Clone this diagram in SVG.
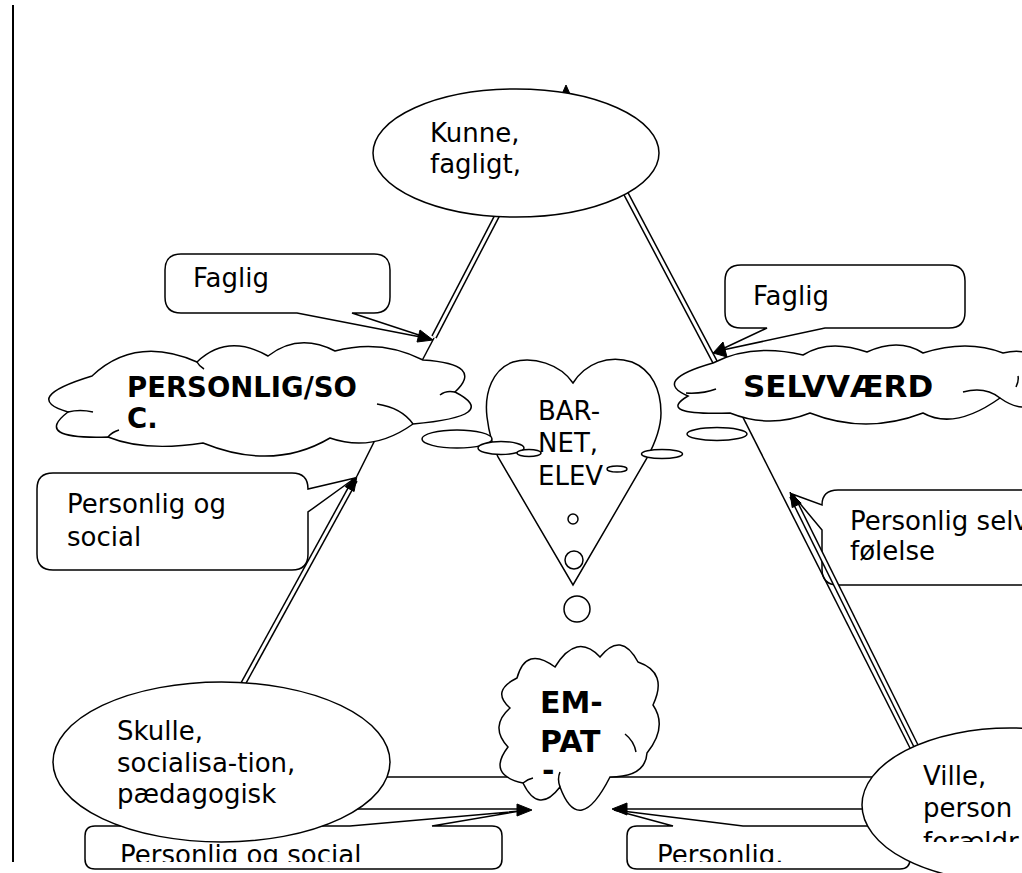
<svg xmlns="http://www.w3.org/2000/svg" width="1022" height="873" viewBox="0 0 1022 873">
<style>
.s{fill:#fff;stroke:#000;stroke-width:1.5}
.l{fill:none;stroke:#000;stroke-width:1.5}
.dk{fill:none;stroke:#000;stroke-width:6}
.dw{fill:none;stroke:#fff;stroke-width:3}
.ah{fill:#000;stroke:#000;stroke-width:1}
.t{font-family:"DejaVu Sans",Verdana,sans-serif;font-size:26px;fill:#000}
.b{font-family:"DejaVu Sans",Verdana,sans-serif;font-weight:bold;fill:#000}
.b27{font-size:27.5px}
.b30{font-size:30px}
.b31{font-size:31px}
</style>
<defs>
<clipPath id="cpB1"><rect x="85" y="826" width="420" height="36"/></clipPath>
<clipPath id="cpB2"><rect x="627" y="826" width="285" height="36"/></clipPath>
<clipPath id="cpV"><rect x="870" y="700" width="160" height="142"/></clipPath>
<clipPath id="cpE"><rect x="500" y="640" width="160" height="134"/></clipPath>
</defs>
<rect width="1022" height="873" fill="#fff"/>
<line x1="13" y1="5" x2="13" y2="862" stroke="#000" stroke-width="2"/>

<g id="callout-faglig-left">
<path class="s" d="M181,254 H374 Q390,254 390,270 V297 Q390,313 374,313 H352 L431,339 L297,313 H181 Q165,313 165,297 V270 Q165,254 181,254 Z"/>
<text class="t" x="193" y="287">Faglig</text>
</g>
<g id="callout-faglig-right">
<path class="s" d="M741,265 H949 Q965,265 965,281 V312 Q965,328 949,328 H825 L718,351 L767,328 H741 Q725,328 725,312 V281 Q725,265 741,265 Z"/>
<text class="t" x="753" y="305">Faglig</text>
</g>
<g id="callout-personlig-social">
<path class="s" d="M53,473 H292 Q308,473 308,489 L355,478 L308,512 V554 Q308,570 292,570 H53 Q37,570 37,554 V489 Q37,473 53,473 Z"/>
<text class="t" x="67" y="513">Personlig og</text>
<text class="t" x="67" y="546">social</text>
</g>
<g id="callout-personlig-selv">
<path class="s" d="M1040,490 V585 H838 Q822,585 822,569 V530 L792,494 L822,505 Q822,490 838,490 Z"/>
<text class="t" x="850" y="530">Personlig selv</text>
<text class="t" x="850" y="560">følelse</text>
</g>
<g id="callout-bottom-left">
<path class="s" d="M95,826 H350 L520,811 L432,826 H492 Q502,826 502,836 V859 Q502,869 492,869 H95 Q85,869 85,859 V836 Q85,826 95,826 Z"/>
<text class="t" x="120" y="864" clip-path="url(#cpB1)">Personlig og social</text>
</g>
<g id="callout-bottom-right">
<path class="s" d="M637,826 H673 L614,810 L743,826 H900 Q910,826 910,836 V859 Q910,869 900,869 H637 Q627,869 627,859 V836 Q627,826 637,826 Z"/>
<text class="t" x="657" y="864" clip-path="url(#cpB2)">Personlig.</text>
</g>

<g id="connectors">
<polygon class="ah" points="562,94 566,85 570,94"/>
<path class="dk" d="M499,212 L434,337"/>
<path class="dw" d="M499,212 L434,337"/>
<path class="l" d="M434,338 L415,374"/>
<path class="dk" d="M624,190 L715,362"/>
<path class="dw" d="M624,190 L715,362"/>
<path class="l" d="M715,362 L911,750"/>
<path class="dk" d="M792,496 L917,748"/>
<path class="dw" d="M792,496 L917,748"/>
<path class="dk" d="M355,480 L243,684"/>
<path class="dw" d="M355,480 L243,684"/>
<path class="l" d="M357,476 L376,438"/>
<path class="l" d="M380,777 H880"/>
<path class="l" d="M355,809 H518"/>
<path class="l" d="M626,809 H866"/>
<polygon class="ah" points="433,340 417,342 420,330"/>
<polygon class="ah" points="713,353 723,342 727,357"/>
<polygon class="ah" points="357,476 345.3,486.7 354.1,491.5"/>
<polygon class="ah" points="790,492 792.2,507.6 801.2,503.2"/>
<polygon class="ah" points="532,810 517,804 517,816"/>
<polygon class="ah" points="612,809 627,803 627,815"/>
</g>

<g id="node-kunne">
<ellipse class="s" cx="516" cy="153" rx="143" ry="64"/>
<text class="t" x="430" y="142">Kunne,</text>
<text class="t" x="430" y="173">fagligt,</text>
</g>

<g id="node-skulle">
<ellipse class="s" cx="221.5" cy="762" rx="168.5" ry="80"/>
<text class="t" x="117" y="740">Skulle,</text>
<text class="t" x="117" y="772">socialisa-tion,</text>
<text class="t" x="117" y="803">pædagogisk</text>
</g>

<g id="node-ville">
<ellipse class="s" cx="1010" cy="805" rx="148" ry="77"/>
<g clip-path="url(#cpV)">
<text class="t" x="923" y="785">Ville,</text>
<text class="t" x="923" y="817">person</text>
<text class="t" x="923" y="851">forældr</text>
</g>
</g>

<g id="node-heart">
<path class="s" d="M573,383 C560,364 533,356 513,362 C493,369 484,392 487,417 C489,433 492,445 498,457 L573,585 L647,458 C654,445 661,430 661,413 C661,390 652,370 632,362 C608,354 585,364 573,383 Z"/>
</g>

<g id="node-personlig">
<path class="s" d="M92,376 Q135.5,335 197,362 Q227.5,333 268,356 Q298.5,332.5 335,351 Q381,338.5 423,360 Q485,364 455,392 Q502,416 413,424 Q372.5,453 330,438 Q273.5,471.5 203,443 Q144.5,452 108,437 Q32,439.5 68,412 Q20,398 92,376 Z"/>
<path class="l" d="M455,392 Q446,390 440,395 M377,404 Q402,408 413,424 M108,437 Q112,432 119,430 M68,412 Q80,409 93,412 M197,362 Q199,366 204,369"/>
<ellipse class="s" cx="457" cy="439" rx="35" ry="9"/>
<ellipse class="s" cx="501" cy="448" rx="23" ry="6.5"/>
<ellipse class="s" cx="529" cy="453" rx="12" ry="3.5"/>
<text class="b b27" x="127" y="397">PERSONLIG/SO</text>
<text class="b b27" x="127" y="428">C.</text>
</g>

<g id="node-selvvaerd">
<path class="s" d="M713,363 Q752,343 803,355 Q829,338.5 867,352 Q899,337.5 923,353 Q967,339 1003,353 Q1036,345.5 1045,372 L1045,395 Q1027.5,417.5 1000,398 Q954.5,430.5 923,413 Q865.5,435 810,413 Q770,429 730,413 Q655,415.5 688,396 Q651.5,380.5 713,363 Z"/>
<path class="l" d="M963,392 Q985,386 1000,398 M686,393 Q703,394 716,389 M1016,387 Q1019,381 1018,376"/>
<ellipse class="s" cx="717" cy="434" rx="30" ry="6.5"/>
<ellipse class="s" cx="662" cy="454" rx="20.5" ry="4.5"/>
<ellipse class="s" cx="617" cy="469" rx="10" ry="3"/>
<text class="b b31" x="743" y="397">SELVVÆRD</text>
</g>

<g id="node-barnet">
<text class="t" x="538" y="420">BAR-</text>
<text class="t" x="538" y="452">NET,</text>
<text class="t" x="538" y="485">ELEV</text>
</g>

<g id="node-empat">
<path class="s" d="M555,667 Q576.5,632 600,657 Q621,630.5 638,662 Q668.5,672.5 653,705 Q668,727 647,753 Q645.5,777 610,777 Q579,838 560,787 Q538.5,815 523,783 Q486.5,775 508,747 Q489,726.5 510,708 Q490.5,691 517,678 Q526,645.5 555,667 Z"/>
<path class="l" d="M625,734 Q634,741 636,752 M560,787 Q557,779 560,772 M523,783 Q528,779 533,778"/>
<circle class="s" cx="573" cy="519" r="5"/>
<circle class="s" cx="574" cy="560" r="9"/>
<circle class="s" cx="577" cy="609" r="13"/>
<text class="b b30" x="540" y="713">EM-</text>
<text class="b b30" x="540" y="752">PAT</text>
<text class="b b30" x="542" y="781" clip-path="url(#cpE)">-</text>
</g>
</svg>
